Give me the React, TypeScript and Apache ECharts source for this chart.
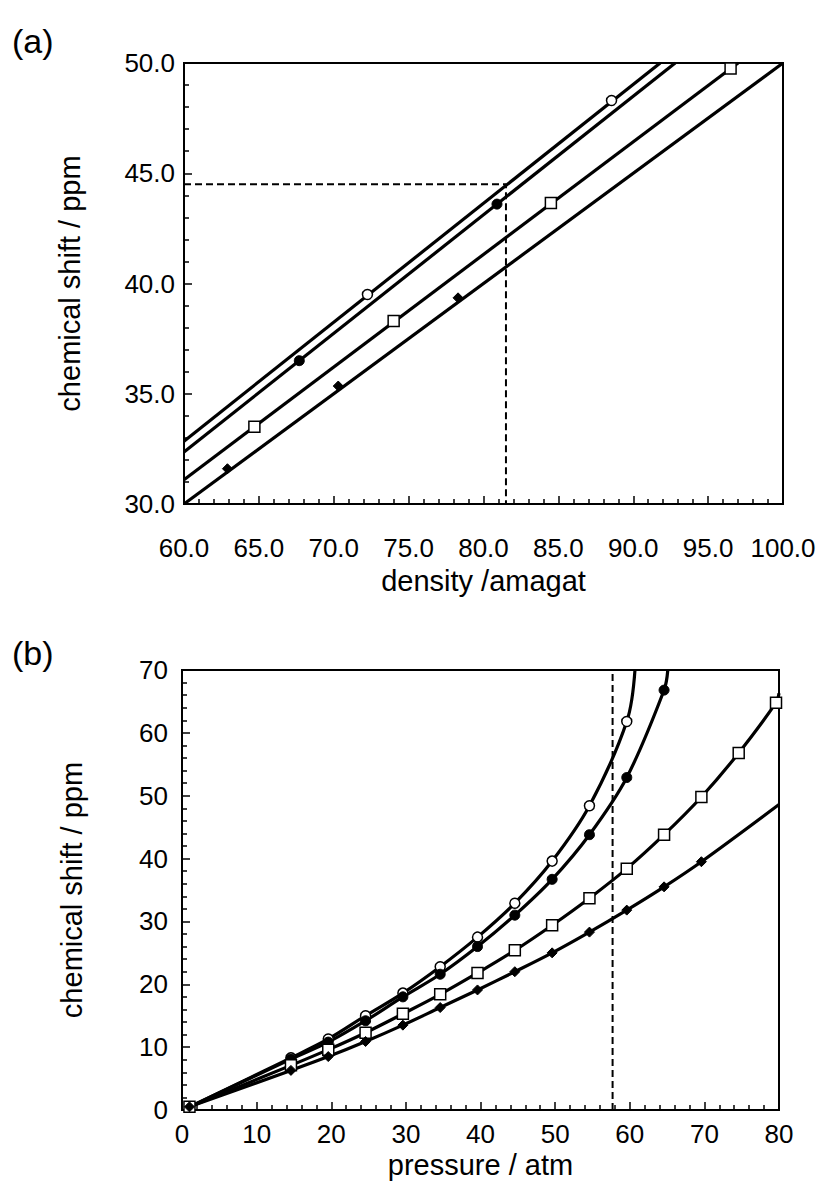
import React, { useEffect, useRef } from "react";
import * as echarts from "echarts";

// ---------- Panel (a): chemical shift vs density ----------
const fitOpenA = [[60, 32.85], [91.8, 50]];
const fitFilledA = [[60, 32.36], [92.8, 50]];
const fitSquareA = [[60, 31.1], [97.0, 50]];
const fitDiamondA = [[60, 30.0], [100, 50]];

const openA = [[72.25, 39.5], [88.55, 48.3]];
const filledA = [[67.7, 36.5], [80.9, 43.6]];
const squareA = [[64.7, 33.5], [74.0, 38.3], [84.5, 43.65], [96.5, 49.75]];
const diamondA = [[62.9, 31.6], [70.3, 35.35], [78.3, 39.35]];

const guideA = [[60, 44.5], [81.5, 44.5], [81.5, 30]];

// ---------- Panel (b): chemical shift vs pressure ----------
const pressures = [1, 14.6, 19.6, 24.6, 29.6, 34.6, 39.6, 44.6, 49.6, 54.6, 59.6, 64.6, 69.6, 74.6, 79.6];
const openB = [0.5, 8.3, 11.3, 15.0, 18.6, 22.8, 27.5, 32.9, 39.6, 48.4, 61.8];
const filledB = [0.5, 8.1, 10.8, 14.2, 18.0, 21.6, 26.0, 31.0, 36.7, 43.8, 52.9, 66.8];
const squareB = [0.5, 7.1, 9.6, 12.3, 15.3, 18.4, 21.8, 25.4, 29.4, 33.7, 38.4, 43.8, 49.8, 56.8, 64.8];
const diamondB = [0.5, 6.3, 8.5, 10.9, 13.5, 16.3, 19.1, 22.0, 25.0, 28.3, 31.8, 35.5, 39.5];

// curve end points (where each curve leaves the frame)
const openBEnd = [60.7, 70];
const filledBEnd = [65.1, 70];
const squareBEnd = [80, 66.3];
const diamondBEnd = [80, 48.6];

const guideB = [[57.7, 0], [57.7, 70]];

const FONT = "'Liberation Sans', Arial, Helvetica, sans-serif";
const TICK_FS = 26;
const NAME_FS = 29;

const pair = (ys: number[]) => ys.map((y, i) => [pressures[i], y]);

function fitLine(data: number[][], xi: number, smooth = false) {
  return {
    type: "line",
    xAxisIndex: xi,
    yAxisIndex: xi,
    data,
    smooth: smooth ? 0.35 : false,
    showSymbol: false,
    symbol: "none",
    lineStyle: { color: "#000", width: 3.2 },
    z: 3,
    silent: true,
  };
}

function markers(data: number[][], xi: number, kind: string) {
  let symbol = "circle";
  let size = 10;
  let itemStyle: any = { color: "#000", borderColor: "#000", borderWidth: 1, opacity: 1 };
  if (kind === "open") {
    itemStyle = { color: "#fff", borderColor: "#000", borderWidth: 1.5, opacity: 1 };
    size = 10;
  } else if (kind === "square") {
    symbol = "rect";
    size = 11;
    itemStyle = { color: "#fff", borderColor: "#000", borderWidth: 1.5, opacity: 1 };
  } else if (kind === "diamond") {
    symbol = "diamond";
    size = 10;
  }
  return {
    type: "scatter",
    xAxisIndex: xi,
    yAxisIndex: xi,
    data,
    symbol,
    symbolSize: size,
    itemStyle,
    z: 5,
    silent: true,
  };
}

function dashed(data: number[][], xi: number) {
  return {
    type: "line",
    xAxisIndex: xi,
    yAxisIndex: xi,
    data,
    showSymbol: false,
    symbol: "none",
    lineStyle: { color: "#000", width: 2, type: [7, 4] },
    z: 2,
    silent: true,
  };
}

function axisCommon(fixed: boolean, margin: number) {
  return {
    axisLine: { show: true, onZero: false, lineStyle: { color: "#000", width: 2 } },
    axisTick: { show: true, inside: true, length: 8, lineStyle: { color: "#000", width: 1.5 } },
    minorTick: { show: true, splitNumber: 5, length: 5, lineStyle: { color: "#000", width: 1.5 } },
    splitLine: { show: false },
    axisLabel: {
      color: "#000",
      fontSize: TICK_FS,
      fontFamily: FONT,
      margin,
      formatter: (v: number) => (fixed ? v.toFixed(1) : String(v)),
    },
  };
}

function xAxis(grid: number, min: number, max: number, interval: number, name: string, margin: number, nameGap: number, fixed: boolean) {
  return {
    type: "value",
    gridIndex: grid,
    min,
    max,
    interval,
    name,
    nameLocation: "middle",
    nameGap,
    nameTextStyle: { color: "#000", fontSize: NAME_FS, fontFamily: FONT },
    ...axisCommon(fixed, margin),
  };
}

function yAxis(grid: number, min: number, max: number, interval: number, name: string, margin: number, nameGap: number, fixed: boolean) {
  return {
    type: "value",
    gridIndex: grid,
    min,
    max,
    interval,
    name,
    nameLocation: "middle",
    nameGap,
    nameRotate: 90,
    nameTextStyle: { color: "#000", fontSize: NAME_FS, fontFamily: FONT },
    ...axisCommon(fixed, margin),
  };
}

export default function App() {
  const ref = useRef<HTMLDivElement>(null);
  useEffect(() => {
    document.body.style.margin = "0";
    const chart = echarts.init(ref.current!, null, { renderer: "svg" });
    chart.setOption({
      animation: false,
      backgroundColor: "#fff",
      textStyle: { fontFamily: FONT },
      grid: [
        { left: 184, top: 63, width: 599, height: 441, show: true, borderColor: "#000", borderWidth: 2, backgroundColor: "transparent" },
        { left: 182, top: 670, width: 597, height: 440, show: true, borderColor: "#000", borderWidth: 2, backgroundColor: "transparent" },
      ],
      xAxis: [
        xAxis(0, 60, 100, 5, "density /amagat", 31, 62, true),
        xAxis(1, 0, 80, 10, "pressure / atm", 11, 40, false),
      ],
      yAxis: [
        yAxis(0, 30, 50, 5, "chemical shift / ppm", 9, 100, true),
        yAxis(1, 0, 70, 10, "chemical shift / ppm", 14, 96, false),
      ],
      graphic: [
        { type: "text", left: 12, top: 24, style: { text: "(a)", font: `34px ${FONT}`, fill: "#000" } },
        { type: "text", left: 12, top: 636, style: { text: "(b)", font: `34px ${FONT}`, fill: "#000" } },
      ],
      series: [
        dashed(guideA, 0),
        fitLine(fitOpenA, 0),
        fitLine(fitFilledA, 0),
        fitLine(fitSquareA, 0),
        fitLine(fitDiamondA, 0),
        markers(openA, 0, "open"),
        markers(filledA, 0, "filled"),
        markers(squareA, 0, "square"),
        markers(diamondA, 0, "diamond"),

        dashed(guideB, 1),
        fitLine([...pair(openB), openBEnd], 1, true),
        fitLine([...pair(filledB), filledBEnd], 1, true),
        fitLine([...pair(squareB), squareBEnd], 1, true),
        fitLine([...pair(diamondB), diamondBEnd], 1, true),
        markers(pair(openB), 1, "open"),
        markers(pair(filledB), 1, "filled"),
        markers(pair(squareB), 1, "square"),
        markers(pair(diamondB), 1, "diamond"),
      ],
    });
    return () => chart.dispose();
  }, []);
  return <div ref={ref} style={{ width: 829, height: 1195 }} />;
}
